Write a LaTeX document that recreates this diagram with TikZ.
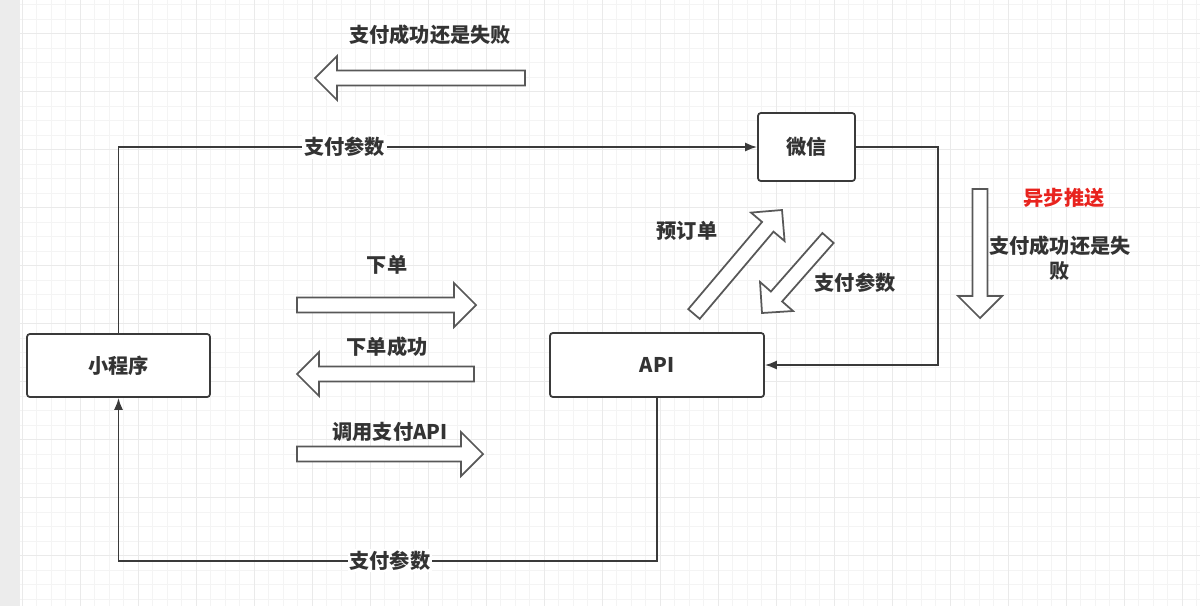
\documentclass[tikz,border=0pt]{standalone}
\usepackage{fontspec}
\setmainfont{Noto Sans CJK SC}
\usetikzlibrary{arrows.meta, positioning, calc}
\definecolor{linegray}{HTML}{3A3A3A}
\definecolor{gridminor}{HTML}{F4F4F4}
\definecolor{gridmajor}{HTML}{EAEAEA}
\definecolor{pushred}{HTML}{E8231E}
\definecolor{txtgray}{HTML}{333333}

% hollow block arrow from #1 (tail) to #2 (tip)
\newcommand{\fatarrow}[2]{%
  \coordinate (fa-base) at ($(#2)!0.44cm!(#1)$);
  \draw[fat] ($(#1)!0.15cm!90:(#2)$) -- ($(fa-base)!0.15cm!-90:(#1)$)
    -- ($(fa-base)!0.44cm!-90:(#1)$) -- (#2)
    -- ($(fa-base)!0.44cm!90:(#1)$) -- ($(fa-base)!0.15cm!90:(#1)$)
    -- ($(#1)!0.15cm!-90:(#2)$) -- cycle;
}

\begin{document}
\begin{tikzpicture}[x=0.02cm, y=-0.02cm,
    box/.style={draw=linegray, line width=1pt, rounded corners=1.6pt, fill=white, inner sep=0pt},
    conn/.style={draw=linegray, line width=1pt, -{Latex[length=2.4mm, width=1.8mm]}},
    lbl/.style={fill=white, inner sep=1pt},
    fat/.style={draw=linegray!85, line width=1pt, fill=white, line join=miter},
    font=\bfseries\fontsize{11.5}{14.5}\selectfont, text=txtgray]
  \useasboundingbox (0,0) rectangle (1200,606);
  \fill[gray!15] (0,0) rectangle (20,606);
  \foreach \i in {0,...,81} \draw[gridminor] (22+14.5*\i,0) -- (22+14.5*\i,606);
  \foreach \j in {0,...,41} \draw[gridminor] (20,4.5+14.5*\j) -- (1200,4.5+14.5*\j);
  \foreach \i in {0,...,20} \draw[gridmajor] (22+58*\i,0) -- (22+58*\i,606);
  \foreach \j in {0,...,9} \draw[gridmajor] (20,33+58*\j) -- (1200,33+58*\j);

  \node[box, minimum width=3.66cm, minimum height=1.26cm] (mini) at (118.5,365.5) {小程序};
  \node[box, minimum width=4.28cm, minimum height=1.28cm] (api) at (657,365) {API};
  \node[box, minimum width=1.94cm, minimum height=1.36cm] (wx) at (806.5,147) {微信};

  \draw[conn] (mini.north) |- node[lbl, pos=0.677] {支付参数} (wx.west);
  \draw[conn] (wx.east) -| ($(api.east)+(173,0)$) -- (api.east);
  \draw[conn] (api.south) -- ++(0,163) -| node[lbl, pos=0.248] {支付参数} (mini.south);

  \foreach \name/\x/\y in {%
    res-tail/525/78, res-tip/315/78,
    order-tail/297/305, order-tip/476/305,
    ok-tail/474/374, ok-tip/297/374,
    pay-tail/297/454, pay-tip/483/454,
    pre-tail/694/314, pre-tip/782/210,
    par-tail/828/238, par-tip/762/313,
    push-tail/980/189, push-tip/980/318}
    \coordinate (\name) at (\x,\y);
  \fatarrow{res-tail}{res-tip}
  \fatarrow{order-tail}{order-tip}
  \fatarrow{ok-tail}{ok-tip}
  \fatarrow{pay-tail}{pay-tip}
  \fatarrow{pre-tail}{pre-tip}
  \fatarrow{par-tail}{par-tip}
  \fatarrow{push-tail}{push-tip}

  \node (res-lab) at (430,35) {支付成功还是失败};
  \node (order-lab) at (387,265) {下单};
  \node (ok-lab) at (387,347) {下单成功};
  \node (pay-lab) at (390,432) {调用支付API};
  \node (pre-lab) at (687,231) {预订单};
  \node (par-lab) at (855,283) {支付参数};
  \node[text=pushred] (push-lab) at (1064,198) {异步推送};
  \node[align=center] (async-lab) at (1060,258) {支付成功还是失\\败};
\end{tikzpicture}
\end{document}
